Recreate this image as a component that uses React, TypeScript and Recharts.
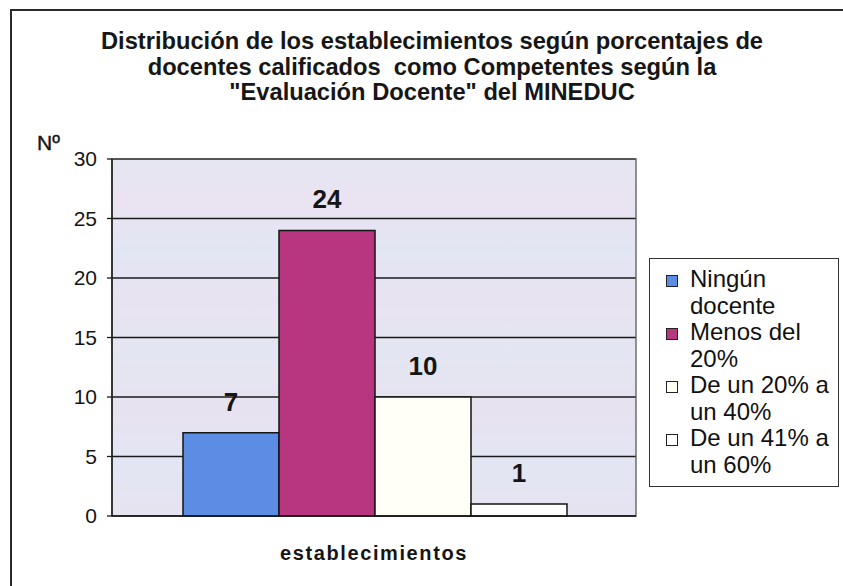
import React from "react";
import { BarChart, Bar, XAxis, YAxis, CartesianGrid, LabelList, Legend, ReferenceArea } from "recharts";

const categories = ["establecimientos"];
const seriesNames = ["Ningún docente", "Menos del 20%", "De un 20% a un 40%", "De un 41% a un 60%"];
const seriesValues = [7, 24, 10, 1];
const seriesColors = ["#5B8DE4", "#B8357F", "#FFFFF6", "#FFFFFF"];
const yTicks = [0, 5, 10, 15, 20, 25, 30];
const titleLines = [
  "Distribución de los establecimientos según porcentajes de",
  "docentes calificados  como Competentes según la",
  "\"Evaluación Docente\" del MINEDUC",
];

const data = categories.map((c) => {
  const row: Record<string, string | number> = { name: c };
  seriesNames.forEach((s, i) => {
    row["s" + i] = seriesValues[i];
  });
  return row;
});

const FONT = "'Liberation Sans', Arial, sans-serif";

const XTick = (props: any) => {
  const { x, y, payload } = props;
  return (
    <text
      x={x}
      y={y}
      dy={36}
      textAnchor="middle"
      fontFamily={FONT}
      fontWeight="bold"
      fontSize={20}
      letterSpacing={1.6}
      fill="#151515"
    >
      {payload.value}
    </text>
  );
};

const LegendContent = () => {
  return (
    <div
      style={{
        width: "100%",
        height: "100%",
        boxSizing: "border-box",
        border: "1.5px solid #333",
        background: "#fff",
        padding: "7px 0 0 16px",
        fontFamily: FONT,
        fontSize: 24,
        lineHeight: "26.5px",
        color: "#111",
      }}
    >
      {seriesNames.map((name, i) => (
        <div key={name} style={{ display: "flex", alignItems: "flex-start" }}>
          <span
            style={{
              display: "inline-block",
              width: 10,
              height: 10,
              marginTop: 9,
              marginRight: 12,
              border: "1.5px solid #222",
              background: seriesColors[i],
              flex: "0 0 auto",
            }}
          />
          <span style={{ width: 146, display: "inline-block" }}>{name}</span>
        </div>
      ))}
    </div>
  );
};

export default function App() {
  return (
    <div
      style={{
        position: "fixed",
        left: 0,
        top: 0,
        width: 843,
        height: 586,
        overflow: "hidden",
        background: "#fff",
      }}
    >
      <div style={{ position: "absolute", left: 10, top: 9, width: 840, height: 2, background: "#2a2a2a" }} />
      <div style={{ position: "absolute", left: 10, top: 9, width: 2, height: 600, background: "#2a2a2a" }} />
      <div
        style={{
          position: "absolute",
          left: 32,
          top: 29,
          width: 800,
          textAlign: "center",
          fontFamily: FONT,
          fontWeight: "bold",
          fontSize: 23.7,
          lineHeight: "25.5px",
          color: "#161616",
          whiteSpace: "pre",
        }}
      >
        {titleLines.map((l, i) => (
          <div key={i}>{l}</div>
        ))}
      </div>
      <div
        style={{
          position: "absolute",
          left: 37,
          top: 131,
          fontFamily: FONT,
          fontSize: 21,
          color: "#151515",
          WebkitTextStroke: "0.4px #151515",
        }}
      >
        Nº
      </div>
      <div style={{ position: "absolute", left: 0, top: 0 }}>
        <BarChart
          width={843}
          height={586}
          data={data}
          margin={{ top: 159, right: 207, bottom: 30, left: 52 }}
          barCategoryGap={71}
          barGap={0}
        >
          <defs>
            <linearGradient id="plotBg" x1="0" y1="0" x2="0" y2="1">
              <stop offset="0%" stopColor="#E4E6F2" />
              <stop offset="12%" stopColor="#EBE3F1" />
              <stop offset="25%" stopColor="#E2E6F3" />
              <stop offset="40%" stopColor="#E9E3F1" />
              <stop offset="55%" stopColor="#E3E6F2" />
              <stop offset="70%" stopColor="#E8E2F0" />
              <stop offset="85%" stopColor="#E2E5F3" />
              <stop offset="100%" stopColor="#E7E3F0" />
            </linearGradient>
          </defs>
          <CartesianGrid vertical={false} stroke="#1a1a1a" strokeWidth={1.3} fill="url(#plotBg)" fillOpacity={1} />
          <ReferenceArea y1={0} y2={30} fill="none" stroke="#5a5a5a" strokeWidth={1.3} ifOverflow="visible" />
          <XAxis
            dataKey="name"
            height={40}
            tickLine={false}
            axisLine={{ stroke: "#1a1a1a", strokeWidth: 1.5 }}
            tick={<XTick />}
          />
          <YAxis
            width={60}
            domain={[0, 30]}
            ticks={yTicks}
            interval={0}
            tickSize={5}
            tickMargin={10}
            axisLine={{ stroke: "#1a1a1a", strokeWidth: 1.5 }}
            tickLine={{ stroke: "#1a1a1a", strokeWidth: 1.3 }}
            tick={{ fontFamily: FONT, fontSize: 21, fill: "#151515" }}
          />
          <Legend
            layout="vertical"
            align="center"
            verticalAlign="middle"
            content={<LegendContent />}
            wrapperStyle={{ left: 649, top: 258, width: 190, height: 229, right: "auto", bottom: "auto" }}
          />
          {seriesNames.map((s, i) => (
            <Bar
              key={s}
              dataKey={"s" + i}
              name={s}
              fill={seriesColors[i]}
              stroke="#151515"
              strokeWidth={1.5}
              isAnimationActive={false}
            >
              <LabelList
                dataKey={"s" + i}
                position="top"
                offset={22}
                fontFamily={FONT}
                fontWeight="bold"
                fontSize={26}
                fill="#151515"
              />
            </Bar>
          ))}
        </BarChart>
      </div>
    </div>
  );
}
